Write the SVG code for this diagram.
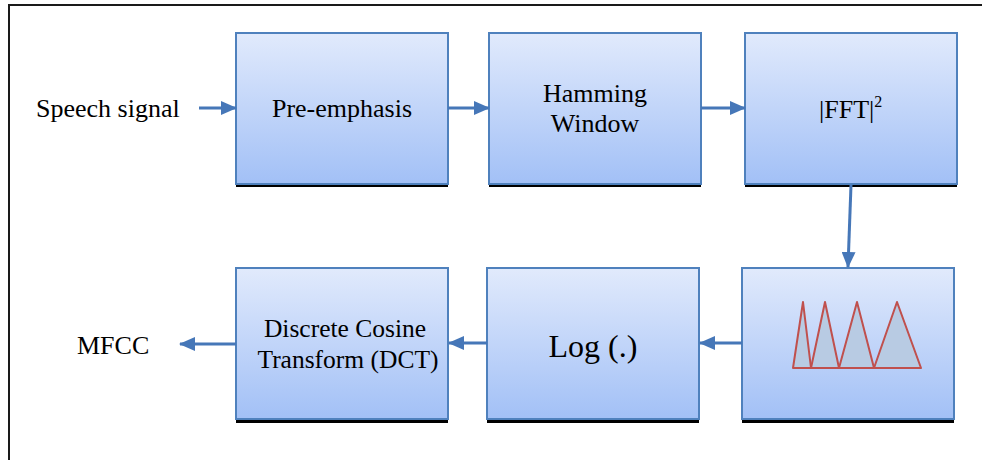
<svg xmlns="http://www.w3.org/2000/svg" width="982" height="460" viewBox="0 0 982 460">
<defs>
<linearGradient id="g" x1="0" y1="0" x2="0" y2="1">
<stop offset="0" stop-color="#e1eafc"/>
<stop offset="1" stop-color="#a2c0f6"/>
</linearGradient>
<marker id="ah" viewBox="0 0 16 14" refX="15" refY="7" markerWidth="16" markerHeight="14" markerUnits="userSpaceOnUse" orient="auto">
<path d="M0,0 L16,7 L0,14 Z" fill="#4677b8"/>
</marker>
<style>
.box{fill:url(#g);stroke:#4f81bd;stroke-width:2}
.sh{fill:#000}
.t{font-family:"Liberation Serif","Times New Roman",serif;font-size:26px;fill:#000}
.c{text-anchor:middle}
.big{font-size:32px}
.mid{font-size:25.5px}
.sup{font-size:16px}
.ln{stroke:#4677b8;stroke-width:3;fill:none;marker-end:url(#ah)}
.tri{fill:#b8cbe3;stroke:#c0504d;stroke-width:2;stroke-linejoin:round}
</style>
</defs>
<rect width="982" height="460" fill="#fff"/>
<path d="M9,460 V5 H982" fill="none" stroke="#1a1a1a" stroke-width="2"/>

<g id="speech-label"><text class="t" x="36" y="117">Speech signal</text></g>
<g id="pre-emphasis">
<rect class="sh" x="236" y="182" width="212" height="5"/>
<rect class="box" x="236" y="33" width="212" height="151"/>
<text class="t c" x="342" y="117">Pre-emphasis</text>
</g>
<g id="hamming">
<rect class="sh" x="489" y="182" width="212" height="5"/>
<rect class="box" x="489" y="33" width="212" height="151"/>
<text class="t c" x="595" y="102">Hamming</text>
<text class="t c" x="595" y="132">Window</text>
</g>
<g id="fft">
<rect class="sh" x="745" y="182" width="212" height="5"/>
<rect class="box" x="745" y="33" width="212" height="151"/>
<text class="t" x="819" y="118">|FFT|<tspan class="sup" dy="-11">2</tspan></text>
</g>
<g id="filterbank">
<rect class="sh" x="742" y="417" width="212" height="6"/>
<rect class="box" x="742" y="268" width="212" height="151"/>
<polygon class="tri" points="793,368 803,302 811,368"/>
<polygon class="tri" points="811,368 825,302 839,368"/>
<polygon class="tri" points="839,368 857,302 874,368"/>
<polygon class="tri" points="874,368 897,302 921,368"/>
</g>
<g id="log">
<rect class="sh" x="487" y="417" width="212" height="6"/>
<rect class="box" x="487" y="268" width="212" height="151"/>
<text class="t c big" x="593" y="357">Log (.)</text>
</g>
<g id="dct">
<rect class="sh" x="236" y="417" width="212" height="6"/>
<rect class="box" x="236" y="268" width="212" height="151"/>
<text class="t c mid" x="345" y="337">Discrete Cosine</text>
<text class="t c mid" x="348" y="368">Transform (DCT)</text>
</g>
<g id="mfcc-label"><text class="t" x="77" y="354">MFCC</text></g>

<g id="connectors">
<line class="ln" x1="199" y1="108" x2="236" y2="108"/>
<line class="ln" x1="448" y1="108" x2="489" y2="108"/>
<line class="ln" x1="701" y1="108" x2="745" y2="108"/>
<line class="ln" x1="851" y1="185" x2="848" y2="267"/>
<line class="ln" x1="742" y1="343" x2="700" y2="343"/>
<line class="ln" x1="487" y1="343" x2="449" y2="343"/>
<line class="ln" x1="236" y1="344" x2="180" y2="344"/>
</g>
</svg>
